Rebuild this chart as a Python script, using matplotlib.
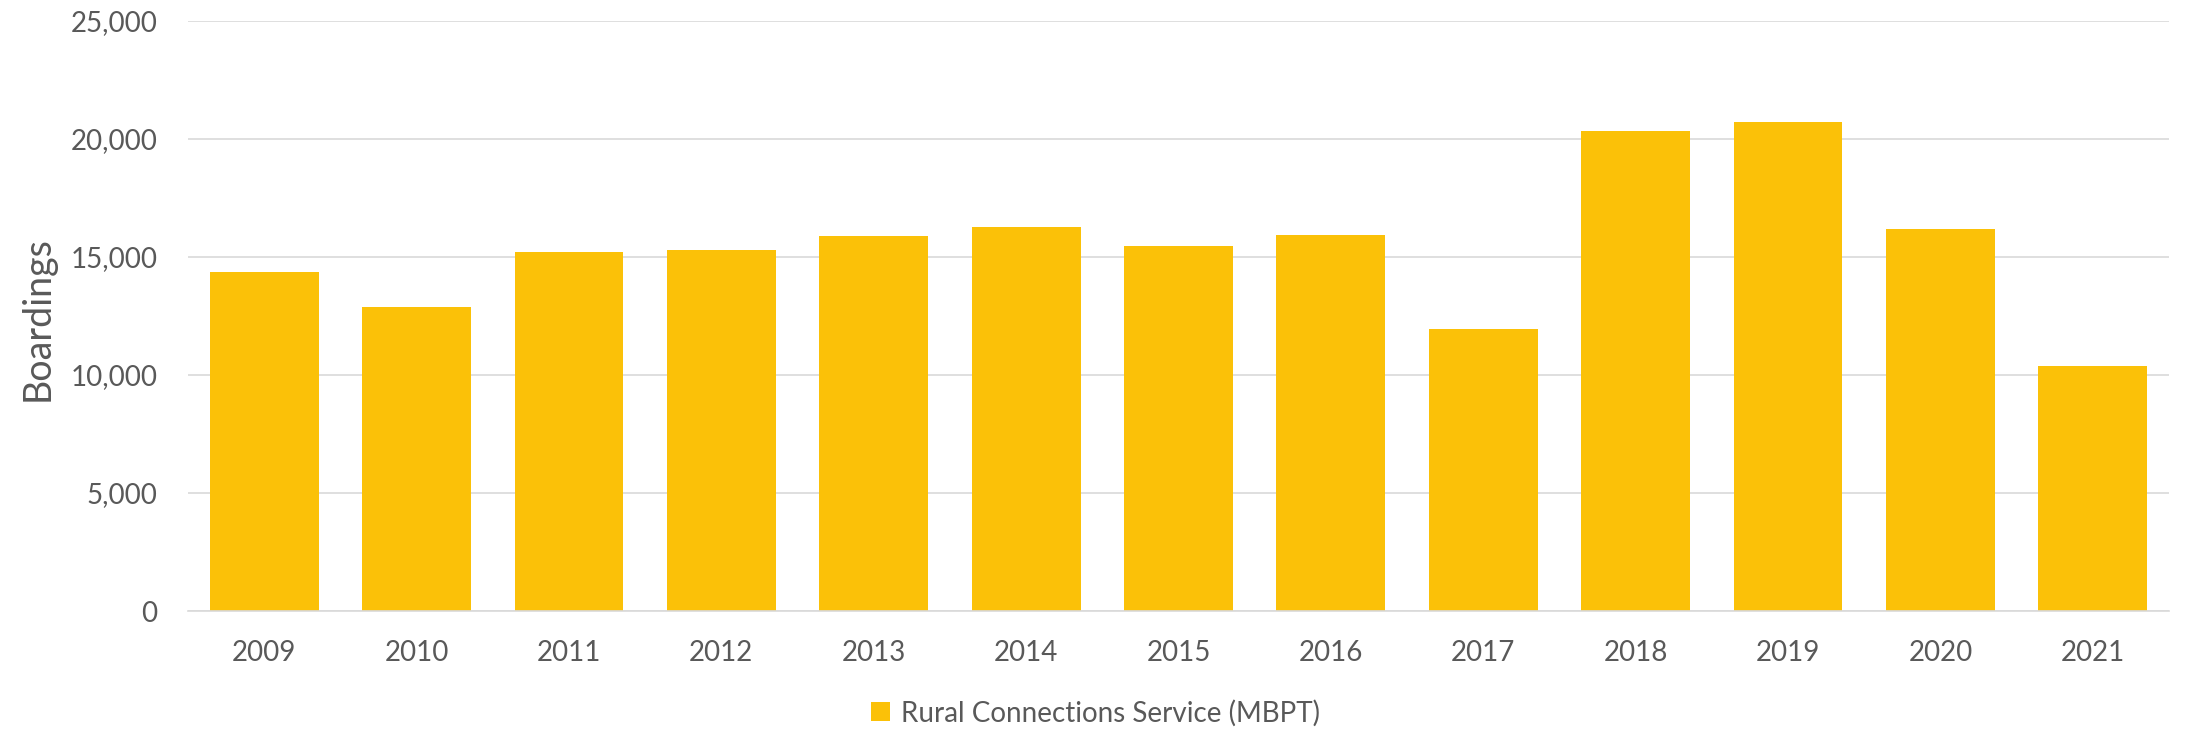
import matplotlib
matplotlib.use("Agg")
import matplotlib.pyplot as plt
from matplotlib.ticker import FuncFormatter
from matplotlib.patches import Patch

years = ["2009", "2010", "2011", "2012", "2013", "2014", "2015",
         "2016", "2017", "2018", "2019", "2020", "2021"]
boardings = [14350, 12900, 15200, 15300, 15900, 16250, 15450,
             15950, 11950, 20350, 20730, 16170, 10400]
series_name = "Rural Connections Service (MBPT)"
y_label = "Boardings"

bar_color = "#FBC108"
text_color = "#595959"
grid_color = "#D9D9D9"

plt.rcParams['font.family'] = ['Lato', 'DejaVu Sans']

fig = plt.figure(figsize=(21.91, 7.36), dpi=100)
ax = fig.add_axes([188/2191, 1-611/736, (2169-188)/2191, (611-21)/736])

x = list(range(len(years)))
ax.bar(x, boardings, width=0.714, color=bar_color, zorder=3)

ax.set_xlim(-0.5, len(years)-0.5)
ax.set_ylim(0, 25000)
ax.set_yticks(range(0, 25001, 5000))
ax.yaxis.set_major_formatter(FuncFormatter(lambda v, p: f"{int(v):,}"))
ax.set_xticks(x)
ax.set_xticklabels(years)

ax.grid(axis='y', color=grid_color, linewidth=1.2, zorder=0)
for s in ['top', 'right', 'left']:
    ax.spines[s].set_visible(False)
ax.spines['bottom'].set_color(grid_color)
ax.spines['bottom'].set_linewidth(1.2)
ax.spines['bottom'].set_zorder(4)

ax.tick_params(axis='both', length=0, labelsize=20, colors=text_color)
ax.tick_params(axis='y', pad=22)
ax.tick_params(axis='x', pad=21)

fig.text(38/2191, 1-319/736, y_label, rotation=90, ha='center', va='center',
         fontsize=27, color=text_color)

handle = Patch(facecolor=bar_color, edgecolor='none')
leg = fig.legend([handle], [series_name], loc='center',
                 bbox_to_anchor=(0.5, 1-713/736), frameon=False,
                 fontsize=20, handlelength=0.7, handleheight=0.7,
                 handletextpad=0.4, labelcolor=text_color)

fig.savefig("out.png", dpi=100)
